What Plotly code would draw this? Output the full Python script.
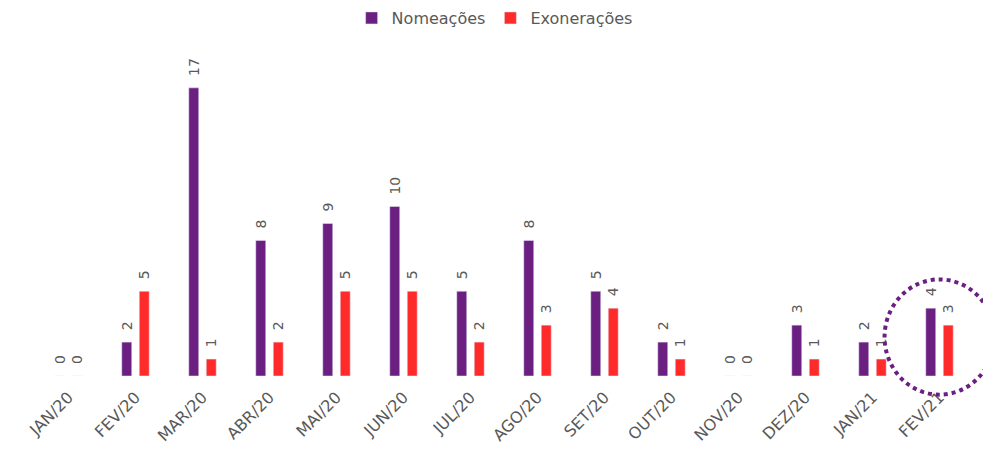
import plotly.graph_objects as go

meses = ["JAN/20", "FEV/20", "MAR/20", "ABR/20", "MAI/20", "JUN/20", "JUL/20",
         "AGO/20", "SET/20", "OUT/20", "NOV/20", "DEZ/20", "JAN/21", "FEV/21"]
nomeacoes = [0, 2, 17, 8, 9, 10, 5, 8, 5, 2, 0, 3, 2, 4]
exoneracoes = [0, 5, 1, 2, 5, 5, 2, 3, 4, 1, 0, 1, 1, 3]

roxo = "#6b1f80"
vermelho = "#ff2b2b"
cinza = "#595959"
fonte = "DejaVu Sans"

rotulo = "\u00a0\u00a0%{y}"
y_max = 20
n = len(meses)

fig = go.Figure()
fig.add_trace(go.Bar(name="Nomeações", x=meses, y=nomeacoes, marker_color=roxo,
                     texttemplate=rotulo, textposition="outside", textangle=-90,
                     constraintext="none",
                     textfont=dict(color=cinza, size=14, family=fonte), cliponaxis=False))
fig.add_trace(go.Bar(name="Exonerações", x=meses, y=exoneracoes, marker_color=vermelho,
                     texttemplate=rotulo, textposition="outside", textangle=-90,
                     constraintext="none",
                     textfont=dict(color=cinza, size=14, family=fonte), cliponaxis=False))

# dotted circle highlighting the last month (paper coords so it is not clipped)
i_dest = n - 1
cx = (i_dest + 0.5) / n
rx = 0.82 / n
cy = 2.3 / y_max
ry = 3.4 / y_max
fig.add_shape(type="circle", xref="paper", yref="paper",
              x0=cx - rx, x1=cx + rx, y0=cy - ry, y1=cy + ry,
              line=dict(color=roxo, width=4, dash="dot"))

fig.update_layout(
    width=983, height=453,
    margin=dict(l=35, r=10, t=37, b=77, autoexpand=False),
    paper_bgcolor="white", plot_bgcolor="white",
    barmode="group", bargap=0.478, bargroupgap=0.43,
    font=dict(family=fonte, color=cinza, size=14),
    legend=dict(orientation="h", x=0.49, xanchor="center", y=1.056, yanchor="middle",
                font=dict(size=16, color=cinza, family=fonte),
                itemwidth=30, tracegroupgap=0),
    xaxis=dict(tickangle=-45, showgrid=False, showline=False, zeroline=False,
               range=[-0.5, n - 0.5], automargin=False, ticklabelstandoff=8,
               tickfont=dict(size=16, color=cinza, family=fonte), ticks=""),
    yaxis=dict(range=[0, y_max], visible=False, showgrid=False, automargin=False),
    uniformtext=dict(mode=False),
)

ajuste = ("document.body.style.margin='0';"
          "document.body.style.overflow='hidden';"
          "window.dispatchEvent(new Event('resize'));")

fig.write_html("out.html", post_script=ajuste, config={"displayModeBar": False})
